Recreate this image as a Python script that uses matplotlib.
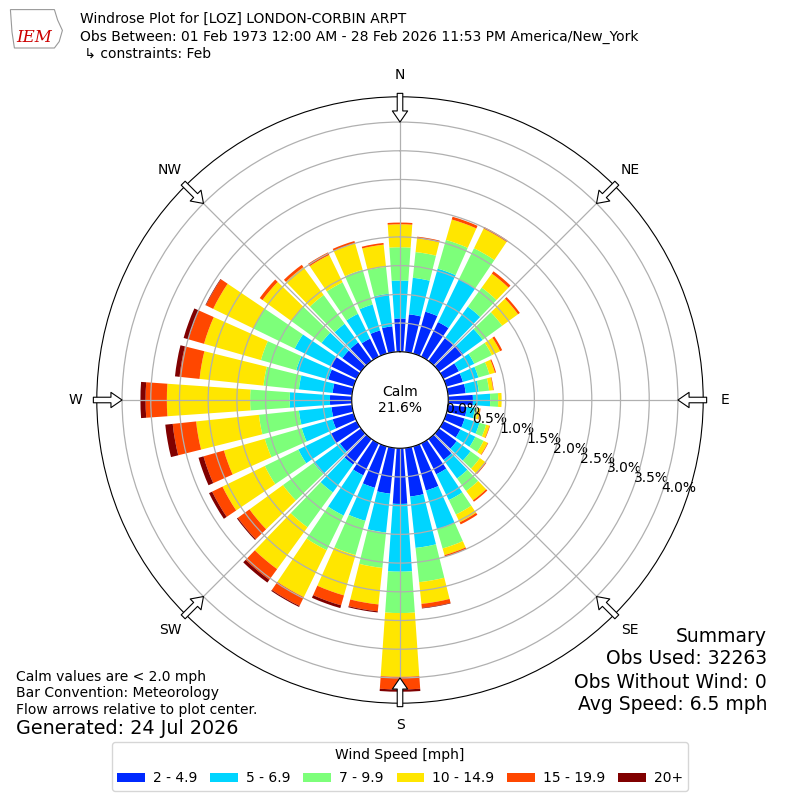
import numpy as np
import matplotlib
matplotlib.use("Agg")
import matplotlib.pyplot as plt
from matplotlib.patches import Polygon

# wind direction (deg, where the wind comes from) and speed bins
directions = list(range(0, 360, 10))
speed_bins = ["2 - 4.9", "5 - 6.9", "7 - 9.9", "10 - 14.9", "15 - 19.9", "20+"]

# percent of observations per direction, one list per speed bin
pct_2_5 = [0.58, 0.66, 0.76, 0.67, 0.49, 0.52, 0.30, 0.30, 0.31, 0.43, 0.33, 0.33,
           0.33, 0.38, 0.45, 0.60, 0.80, 0.85, 0.97, 0.80, 0.75, 0.62, 0.55, 0.45,
           0.50, 0.38, 0.36, 0.38, 0.34, 0.46, 0.50, 0.40, 0.40, 0.35, 0.42, 0.45]
pct_5_7 = [0.66, 0.64, 0.78, 0.83, 0.68, 0.42, 0.30, 0.28, 0.23, 0.30, 0.14, 0.27,
           0.29, 0.30, 0.40, 0.50, 0.70, 0.90, 1.18, 0.68, 0.60, 0.78, 0.60, 0.57,
           0.63, 0.56, 0.57, 0.70, 0.59, 0.58, 0.70, 0.45, 0.40, 0.48, 0.47, 0.57]
pct_7_10 = [0.58, 0.45, 0.52, 0.60, 0.41, 0.42, 0.34, 0.20, 0.18, 0.14, 0.05, 0.12,
            0.16, 0.20, 0.27, 0.28, 0.35, 0.60, 0.72, 0.62, 0.62, 0.67, 0.75, 0.66,
            0.65, 0.67, 0.70, 0.69, 0.62, 0.64, 0.80, 0.65, 0.62, 0.61, 0.63, 0.47]
pct_10_15 = [0.40, 0.24, 0.37, 0.38, 0.30, 0.34, 0.16, 0.10, 0.07, 0.06, 0.04, 0.06,
             0.08, 0.12, 0.20, 0.15, 0.12, 0.38, 1.11, 0.64, 0.73, 0.91, 0.90, 0.72,
             0.82, 0.74, 1.10, 1.45, 1.12, 1.03, 0.78, 0.62, 0.60, 0.53, 0.48, 0.39]
pct_15_20 = [0.03, 0.03, 0.05, 0.03, 0.05, 0.04, 0.04, 0.02, 0.01, 0.00, 0.01, 0.01,
             0.01, 0.02, 0.03, 0.04, 0.03, 0.07, 0.22, 0.12, 0.18, 0.17, 0.23, 0.25,
             0.20, 0.37, 0.41, 0.37, 0.35, 0.28, 0.14, 0.06, 0.05, 0.05, 0.04, 0.03]
pct_20p = [0.00, 0.00, 0.00, 0.00, 0.00, 0.00, 0.00, 0.00, 0.00, 0.00, 0.00, 0.00,
           0.00, 0.00, 0.00, 0.00, 0.00, 0.01, 0.04, 0.02, 0.05, 0.02, 0.06, 0.02,
           0.06, 0.09, 0.13, 0.09, 0.08, 0.09, 0.01, 0.00, 0.00, 0.00, 0.00, 0.00]

calm_pct = 21.6
compass = ["N", "NE", "E", "SE", "S", "SW", "W", "NW"]
rticks = [0.0, 0.5, 1.0, 1.5, 2.0, 2.5, 3.0, 3.5, 4.0]

all_bins = [pct_2_5, pct_5_7, pct_7_10, pct_10_15, pct_15_20, pct_20p]
colors = plt.cm.jet(np.linspace(0, 1, 7))[1:]

fig = plt.figure(figsize=(8, 8), dpi=100)
ax = fig.add_axes([0.121, 0.121, 0.758, 0.758], projection="polar")
ax.set_theta_zero_location("N")
ax.set_theta_direction(-1)

theta = np.radians(directions)
bottom = np.zeros(len(directions))
handles = []
for vals, col, lab in zip(all_bins, colors, speed_bins):
    vals = np.array(vals)
    b = ax.bar(theta, vals, width=np.radians(8), bottom=bottom, color=col,
               edgecolor="none", label=lab, zorder=1)
    handles.append(b)
    bottom += vals

rmax = 4.44
ax.set_ylim(0, rmax)
ax.set_rorigin(-0.84)
ax.set_yticks(rticks)
ax.set_yticklabels(["%.1f%%" % t for t in rticks], fontsize=10)
ax.set_rlabel_position(110)
ax.set_xticks(np.radians(range(0, 360, 45)))
ax.set_xticklabels([])
ax.grid(True, color="#b0b0b0", lw=0.9)

# calm circle in the middle
ax.text(0.5, 0.5, "Calm\n%.1f%%" % calm_pct, transform=ax.transAxes,
        ha="center", va="center", fontsize=10, zorder=5)

# compass labels and inward flow arrows
for i, name in enumerate(compass):
    ang = np.radians(i * 45)
    ax.text(ang, 4.82, name, ha="center", va="center", fontsize=10,
            clip_on=False)
    ax.annotate("", xy=(ang, 4.0), xytext=(ang, 4.5),
                arrowprops=dict(facecolor="white", edgecolor="black", width=4,
                                headwidth=11, headlength=8, shrink=0, lw=0.8),
                annotation_clip=False, zorder=6)

# header
fig.text(0.1, 1 - 19 / 800, "Windrose Plot for [LOZ] LONDON-CORBIN ARPT",
         fontsize=10, va="center")
fig.text(0.1, 1 - 37 / 800,
         "Obs Between: 01 Feb 1973 12:00 AM - 28 Feb 2026 11:53 PM America/New_York",
         fontsize=10, va="center")
fig.text(0.1, 1 - 54 / 800, " \u21b3 constraints: Feb", fontsize=10, va="center")

# simple stand-in for the IEM logo
logo = Polygon([(0.013, 0.988), (0.068, 0.988), (0.072, 0.975), (0.078, 0.962),
                (0.074, 0.948), (0.068, 0.94), (0.018, 0.94), (0.015, 0.96)],
               closed=True, transform=fig.transFigure, facecolor="white",
               edgecolor="#999999", lw=0.8)
fig.patches.append(logo)
fig.text(0.02, 1 - 38 / 800, "IEM", color="#cc0000", fontsize=12,
         style="italic", family="DejaVu Serif", va="center")

# footer notes
fig.text(0.02, 1 - 677 / 800, "Calm values are < 2.0 mph", fontsize=10, va="center")
fig.text(0.02, 1 - 693 / 800, "Bar Convention: Meteorology", fontsize=10, va="center")
fig.text(0.02, 1 - 710 / 800, "Flow arrows relative to plot center.", fontsize=10,
         va="center")
fig.text(0.02, 1 - 729 / 800, "Generated: 24 Jul 2026", fontsize=13.8, va="center")

summary = ["Summary", "Obs Used: 32263", "Obs Without Wind: 0", "Avg Speed: 6.5 mph"]
for k, line in enumerate(summary):
    fig.text(0.959, 1 - (636 + 23 * k) / 800, line, fontsize=13.5, ha="right",
             va="center")

fig.legend(handles=handles, labels=speed_bins, loc="upper center",
           bbox_to_anchor=(0.5, 1 - 742 / 800), borderaxespad=0, ncol=6,
           fontsize=10, title="Wind Speed [mph]", title_fontsize=10,
           handlelength=2.0, handleheight=0.7, columnspacing=0.95,
           handletextpad=0.55, borderpad=0.4, labelspacing=0.7)

fig.savefig("out.png", dpi=100)
